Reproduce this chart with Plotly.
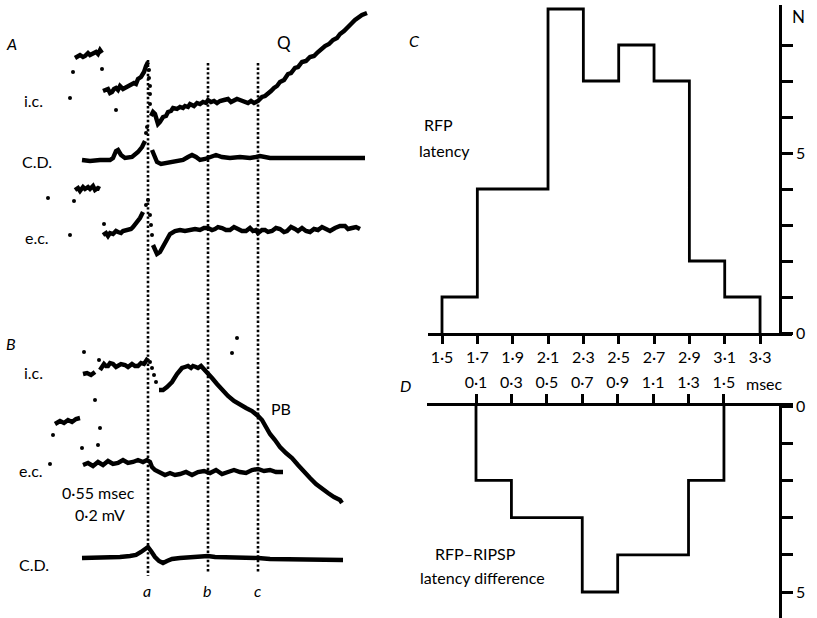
import plotly.graph_objects as go

W, H = 817, 618
FONT = "Lato"

# ---------------- Histogram C : RFP latency ----------------
c_edges = [1.5, 1.7, 1.9, 2.1, 2.3, 2.5, 2.7, 2.9, 3.1, 3.3]
c_counts = [1, 4, 4, 9, 7, 8, 7, 2, 1]
c_ticktext = ["1·5", "1·7", "1·9", "2·1", "2·3", "2·5", "2·7", "2·9", "3·1", "3·3"]
c_yticks = [0, 1, 2, 3, 4, 5, 6, 7, 8]
c_yticktext = ["0", "", "", "", "", "5", "", "", ""]

# ---------------- Histogram D : RFP-RIPSP latency difference ----------------
d_edges = [0.1, 0.3, 0.5, 0.7, 0.9, 1.1, 1.3, 1.5]
d_counts = [2, 3, 3, 5, 4, 4, 2]
d_ticktext = ["0·1", "0·3", "0·5", "0·7", "0·9", "1·1", "1·3", "1·5"]
d_yticks = [0, 1, 2, 3, 4, 5]
d_yticktext = ["0", "", "", "", "", "5"]

# ---------------- Left: oscilloscope records (arbitrary time / amplitude units) ----------------
N = None
A_ic_t = [75, 78, 80, 83, 85, 88, 90, 92, 96, 98, 100, 102, N,
          103, 106, 108, 110, 112, 114, 116, 118, 120, 123, 125, 128, 130, 134, 136, 138, 141, 144, 146, 148, N,
          151, 153, 155, 157, 158, 160, 163, 166, 168, 171, 173, 177, 180, 183, 185, 188, 190, 194, 197, 200,
          203, 206, 208, 211, 214, 217, 220, 224, 228, 231, 234, 237, 240, 244, 248, 251, 254, 258,
          262, 265, 268, 271, 274, 277, 280, 284, 288, 291, 295, 298, 302, 306, 310, 314, 318, 321, 325,
          329, 333, 337, 340, 344, 348, 351, 355, 358, 362, 367]
A_ic_v = [58, 56, 55, 57, 56, 53, 55, 54, 52, 54, 50, 53, N,
          91, 90, 89, 93, 92, 89, 88, 90, 86, 89, 88, 87, 85, 83, 84, 79, 77, 72, 66, 62, N,
          116, 112, 114, 120, 124, 122, 117, 116, 112, 111, 108, 109, 107, 108, 106, 107, 104, 106, 103, 104,
          102, 103, 100, 102, 101, 103, 101, 100, 99, 102, 101, 99, 100, 102, 103, 101, 103, 101,
          97, 96, 94, 91, 88, 86, 82, 80, 74, 73, 68, 67, 62, 61, 57, 56, 52, 49, 46,
          44, 40, 38, 34, 31, 26, 24, 20, 18, 15, 13]
A_ic_dot_t = [70, 73, 102, 116, 149, 149, 150, 150, 150]
A_ic_dot_v = [98, 72, 69, 110, 70, 78, 86, 94, 104]

A_cd_t = [82, 90, 100, 110, 113, 116, 118, 121, 125, 132, 138, 142, 145, N,
          152, 154, 157, 161, 167, 175, 183, 188, 192, 196, 200, 205, 210, 216, 222, 230, 240, 250,
          256, 260, 270, 290, 310, 330, 350, 365]
A_cd_v = [160, 161, 160, 160, 158, 151, 150, 155, 158, 157, 152, 147, 141, N,
          150, 155, 162, 164, 163, 162, 160, 157, 155, 157, 160, 159, 157, 155, 157, 158, 157, 158,
          157, 156, 158, 158, 158, 158, 158, 158]
A_cd_dot_t = [146, 147]
A_cd_dot_v = [133, 127]

A_ec_t = [75, 78, 80, 83, 85, 88, 90, 93, 95, 98, 100, N,
          103, 106, 108, 110, 113, 116, 118, 121, 123, 126, 128, 131, 133, 137, 140, 143, N,
          153, 155, 157, 160, 163, 166, 170, 175, 180, 185, 190, 195, 200, 204, 208, 212, 215, 218, 222, 226,
          230, 234, 238, 242, 246, 250, 253, 256, 258, 262, 265, 268, 272, 276, 280, 284, 287, 291, 295, 298,
          302, 306, 310, 314, 318, 322, 326, 330, 335, 340, 345, 348, 352, 356, 360]
A_ec_v = [190, 188, 191, 187, 189, 187, 189, 186, 190, 188, 189, N,
          235, 233, 236, 233, 234, 231, 232, 233, 231, 230, 229, 229, 227, 222, 218, 212, N,
          245, 250, 254, 252, 247, 241, 234, 231, 230, 231, 230, 229, 230, 228, 228, 230, 229, 227, 228, 230,
          230, 227, 229, 231, 231, 228, 231, 230, 233, 230, 230, 232, 231, 228, 229, 232, 231, 227, 229, 231,
          228, 231, 232, 229, 230, 227, 229, 231, 228, 226, 226, 229, 228, 227, 229]
A_ec_dot_t = [70, 48, 74, 104, 146, 148, 150, 151, 152]
A_ec_dot_v = [235, 198, 201, 224, 205, 200, 215, 225, 235]

B_ic_t = [83, 87, 91, 95, N,
          100, 104, 106, 108, 110, 113, 116, 118, 121, 125, 128, 132, 135, 138, 141, 144, 148, N,
          159, 163, 167, 172, 177, 182, 185, 188, 191, 193, 196, 198, 201, 203, 207, 212, 217, 222, 228, 234, 240, 246,
          252, 256, 258, 262, 266, 270, 275, 280, 286, 292, 298, 304, 310, 316, 322, 328, 334, 340, 342, N,
          55, 60, 64, 68, 72, 76, 80]
B_ic_v = [374, 373, 375, 372, N,
          370, 364, 366, 366, 363, 364, 367, 366, 364, 365, 367, 364, 366, 366, 363, 364, 358, N,
          390, 390, 387, 382, 374, 368, 367, 366, 368, 366, 367, 368, 366, 368, 372, 378, 384, 390, 396, 401, 405, 408,
          411, 414, 416, 420, 428, 434, 440, 447, 453, 458, 465, 472, 478, 484, 489, 493, 497, 500, 503, N,
          424, 421, 423, 420, 422, 419, 418]
B_ic_dot_t = [84, 99, 150, 152, 154, 156, 237, 232, 95, 100, 98, 82, 50, 53]
B_ic_dot_v = [352, 360, 362, 368, 375, 382, 338, 353, 400, 428, 445, 448, 464, 435]

B_ec_t = [83, 88, 93, 98, 103, 108, 113, 118, 123, 128, 133, 138, 143, 147, 150, 152, 155, 160, 165,
          170, 175, 180, 186, 192, 198, 204, 210, 216, 222, 228, 234, 240, 246, 252, 258, 264, 270, 276, 283]
B_ec_v = [465, 463, 466, 462, 465, 461, 464, 463, 460, 463, 462, 460, 462, 460, 462, 467, 470, 473, 475,
          473, 475, 474, 472, 475, 472, 471, 473, 470, 474, 472, 470, 472, 473, 470, 469, 471, 470, 472, 472]

B_cd_t = [82, 90, 100, 110, 120, 130, 136, 141, 145, 148, 151, 155, 159, 163, 167, 172, 180, 190, 200,
          208, 215, 225, 235, 245, 258, 270, 285, 300, 315, 330, 343]
B_cd_v = [558, 558, 557, 557, 557, 556, 555, 552, 549, 547, 551, 557, 561, 563, 561, 559, 558, 557, 557,
          556, 557, 557, 558, 558, 558, 559, 559, 559, 560, 560, 560]

# reference lines a, b, c
mark_t = [148, 208, 258]
mark_top = [60, 63, 63]
mark_bot = [576, 572, 572]
mark_lbl = ["a", "b", "c"]

fig = go.Figure()

# dotted reference lines
for t, y0, y1 in zip(mark_t, mark_top, mark_bot):
    fig.add_trace(go.Scatter(x=[t, t], y=[y0, y1], mode="lines",
                             line=dict(color="black", width=2.6, dash="2.4px,2.2px"),
                             xaxis="x", yaxis="y", hoverinfo="skip"))

for tt, vv in [(A_ic_t, A_ic_v), (A_cd_t, A_cd_v), (A_ec_t, A_ec_v),
               (B_ic_t, B_ic_v), (B_ec_t, B_ec_v), (B_cd_t, B_cd_v)]:
    fig.add_trace(go.Scatter(x=tt, y=vv, mode="lines", connectgaps=False,
                             line=dict(color="black", width=4.4),
                             xaxis="x", yaxis="y", hoverinfo="skip"))
for tt, vv in [(A_ic_dot_t, A_ic_dot_v), (A_cd_dot_t, A_cd_dot_v),
               (A_ec_dot_t, A_ec_dot_v), (B_ic_dot_t, B_ic_dot_v)]:
    fig.add_trace(go.Scatter(x=tt, y=vv, mode="markers",
                             marker=dict(color="black", size=4),
                             xaxis="x", yaxis="y", hoverinfo="skip"))

# histogram C (step outline)
cx = [c_edges[0]] + c_edges
cy = [0] + c_counts + [0]
fig.add_trace(go.Scatter(x=cx, y=cy, mode="lines", line=dict(color="black", width=2.8, shape="hv"),
                         xaxis="x2", yaxis="y2", hoverinfo="skip"))
# histogram D (inverted step outline)
dx = [d_edges[0]] + d_edges
dy = [0] + d_counts + [0]
fig.add_trace(go.Scatter(x=dx, y=dy, mode="lines", line=dict(color="black", width=2.8, shape="hv"),
                         xaxis="x3", yaxis="y3", hoverinfo="skip"))


def px(x):
    return x / W


def py(y):
    return 1 - y / H


# axis geometry
c_x_lo, c_x_hi = 1.5 - 14 / 176.7, 1.5 + 350 / 176.7
d_x_lo, d_x_hi = 0.1 - 49 / 177.1, 0.1 + 317 / 177.1

axfont = dict(family=FONT, size=16, color="black")
common_ax = dict(showline=True, linecolor="black", linewidth=2.8, showgrid=False, zeroline=False,
                 ticks="outside", tickwidth=2.6, tickcolor="black", tickfont=axfont, automargin=False)

fig.update_layout(
    width=W, height=H, autosize=False,
    margin=dict(l=0, r=0, t=0, b=0, pad=0, autoexpand=False),
    paper_bgcolor="white", plot_bgcolor="rgba(0,0,0,0)", showlegend=False,
    font=axfont,
    xaxis=dict(domain=[0, px(420)], range=[0, 420], visible=False),
    yaxis=dict(domain=[0, 1], range=[618, 0], visible=False),
    xaxis2=dict(domain=[px(428), px(792)], range=[c_x_lo, c_x_hi], anchor="y2",
                ticklen=8, tickvals=c_edges, ticktext=c_ticktext, **common_ax),
    yaxis2=dict(domain=[py(333), py(5)], range=[0, 328 / 36], anchor="free", position=px(780),
                side="right", ticklen=11, tickvals=c_yticks, ticktext=c_yticktext, **common_ax),
    xaxis3=dict(domain=[px(427), px(793)], range=[d_x_lo, d_x_hi], anchor="y3", side="top",
                ticklen=9, tickvals=d_edges, ticktext=d_ticktext, **common_ax),
    yaxis3=dict(domain=[0, py(406)], range=[212 / 37.2, 0], anchor="free", position=px(780),
                side="right", ticklen=11, tickvals=d_yticks, ticktext=d_yticktext, **common_ax),
)

ann = []


def lbl(text, x, y, ref="data", size=16, xanchor="center"):
    common = dict(text=text, showarrow=False, xanchor=xanchor, yanchor="middle",
                  font=dict(family=FONT, size=size, color="black"))
    if ref == "data":
        ann.append(dict(x=x, y=y, xref="x", yref="y", **common))
    else:
        ann.append(dict(x=px(x), y=py(y), xref="paper", yref="paper", **common))


# left panel labels
lbl("<i>A</i>", 11, 43)
lbl("i.c.", 33, 100)
lbl("C.D.", 37, 161)
lbl("e.c.", 37, 237)
lbl("Q", 284, 42, size=17)
lbl("<i>B</i>", 11, 343)
lbl("i.c.", 33, 372)
lbl("e.c.", 31, 470)
lbl("0·55 msec", 98, 492)
lbl("0·2 mV", 100, 514)
lbl("C.D.", 34, 564)
lbl("PB", 281, 408)
for t, s in zip(mark_t, mark_lbl):
    lbl("<i>%s</i>" % s, t - 1, 590)

# right panel labels
lbl("<i>C</i>", 415, 40, ref="paper")
lbl("<i>D</i>", 405, 385, ref="paper")
lbl("N", 798, 16, ref="paper", size=17)
lbl("RFP", 438, 125, ref="paper")
lbl("latency", 444, 150, ref="paper")
lbl("RFP–RIPSP", 475, 553, ref="paper")
lbl("latency difference", 482, 577, ref="paper")
lbl("msec", 764, 383, ref="paper")

fig.update_layout(annotations=ann)

fig.write_html("out.html", config={"displayModeBar": False},
               post_script="document.body.style.margin='0';document.body.style.overflow='hidden';")
